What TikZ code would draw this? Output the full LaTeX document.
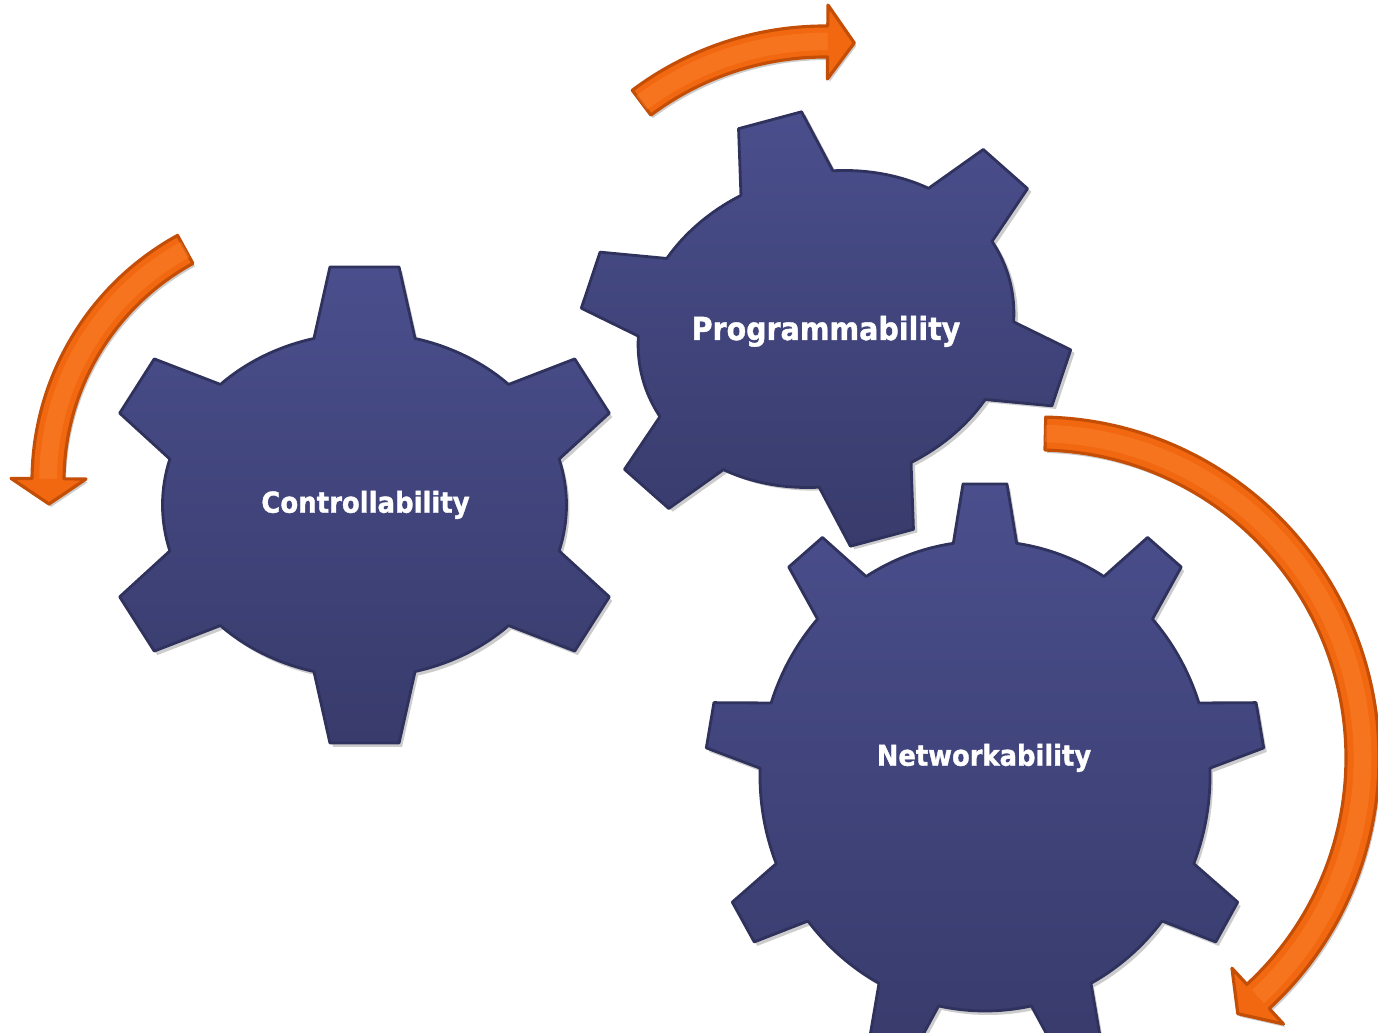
\documentclass[tikz,border=0pt]{standalone}
\usepackage{fontspec}
\newfontfamily\gearfont{DejaVu Sans}[BoldFeatures={FakeBold=1.3}]
\definecolor{geartop}{RGB}{74,78,140}
\definecolor{gearbot}{RGB}{56,59,107}
\definecolor{gearedge}{RGB}{48,50,94}
\definecolor{arrowmid}{RGB}{242,104,16}
\definecolor{arrowrim}{RGB}{196,78,6}
\definecolor{arrowhi}{RGB}{252,136,52}
\tikzset{
  gearbody/.style={top color=geartop,bottom color=gearbot,draw=gearedge,line width=0.8pt,line join=round},
  gearshade/.style={fill=black,opacity=0.2},
  bandarrow/.style={fill=arrowmid,draw=arrowrim,line width=0.9pt,line join=round},
  gearlabel/.style={text=white,anchor=base,xscale=0.9,font=\gearfont\bfseries\fontsize{#1}{#1}\selectfont},
}
% gear: centre, rotation, teeth, body radii, tip radii, half widths
\newcommand{\gear}[9]{%
\begin{scope}[shift={#1},rotate=#2]
\pgfmathsetmacro{\gsp}{360/#3}
\pgfmathtruncatemacro{\glast}{#3-1}
\def\gpath{({90-#8}:#4 and #5) \foreach \tooth in {0,...,\glast}{
  -- ({90+\tooth*\gsp-#9}:#6 and #7) -- ({90+\tooth*\gsp+#9}:#6 and #7)
  -- ({90+\tooth*\gsp+#8}:#4 and #5)
  arc[start angle={90+\tooth*\gsp+#8},end angle={90+(\tooth+1)*\gsp-#8},x radius=#4,y radius=#5]} -- cycle}
\fill[gearshade,shift={(3,-4)}] \gpath;
\path[gearbody] \gpath;
\end{scope}}
% curved arrow: centre, inner/outer radius, tail/base/tip angle
\newcommand{\bandarrow}[6]{%
\begin{scope}[shift={#1}]
\pgfmathsetmacro{\amid}{(#2+#3)/2}
\pgfmathsetmacro{\awin}{#2-22}
\pgfmathsetmacro{\awout}{#3+21}
\def\apath{({#4}:#3) arc[start angle=#4,end angle=#5,radius=#3] -- ({#5}:\awout)
  -- ({#6}:\amid) -- ({#5}:\awin) -- ({#5}:#2) arc[start angle=#5,end angle=#4,radius=#2] -- cycle}
\fill[gearshade,shift={(2,-3)}] \apath;
\path[bandarrow] \apath;
\draw[arrowhi,line width=5pt,opacity=0.4] ({#4}:\amid) arc[start angle=#4,end angle=#5,radius=\amid];
\end{scope}}
\begin{document}
\begin{tikzpicture}[x=0.01cm,y=0.01cm]
\useasboundingbox (0,0) rectangle (1378,1033);
\clip (0,0) rectangle (1378,1033);
% gears
\gear{(364.5,528)}{0}{6}{202}{172}{265}{240}{14.5}{7.5}
\gear{(826,704)}{15}{6}{190}{156}{250}{218}{14.5}{7.5}
\gear{(985,257)}{0}{9}{225}{235}{280}{293}{8.1}{4.5}
% arrows
\bandarrow{(312,552)}{248}{280}{118.7}{179.5}{185}
\bandarrow{(825,686)}{290}{321}{126.9}{89.5}{84.5}
\bandarrow{(1038,275)}{308}{341}{88.7}{-47.3}{-52}
% labels
\node[gearlabel=8.2] (ctrl) at (365.5,520.3) {Controllability};
\node[gearlabel=9] (prog) at (826,693) {Programmability};
\node[gearlabel=8.15] (net) at (984,267.3) {Networkability};
\end{tikzpicture}
\end{document}
